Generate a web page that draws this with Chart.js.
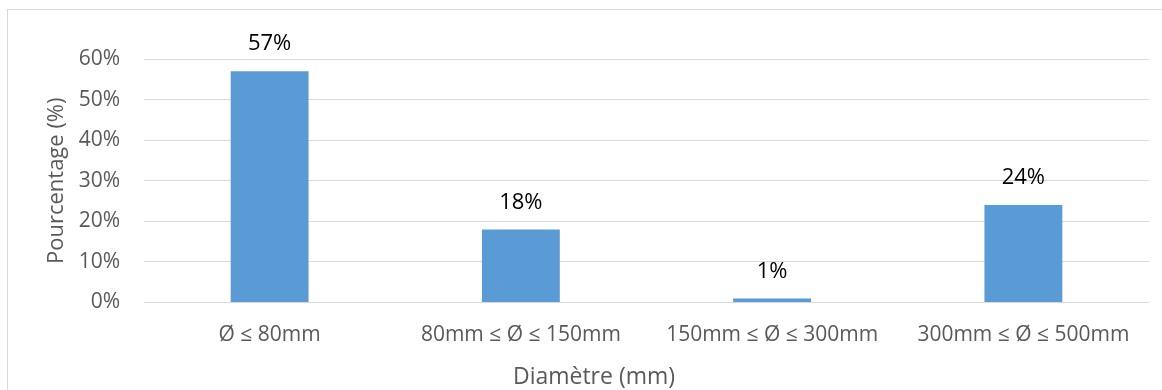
<!DOCTYPE html>
<html>
<head>
<meta charset="utf-8">
<script src="https://cdn.jsdelivr.net/npm/chart.js@4/dist/chart.umd.min.js"></script>
<style>
  body { margin: 0; background: #fff; overflow: hidden; }
  #frame { position: absolute; left: 7px; top: 9px; width: 1200px; height: 420px; border: 1px solid #d9d9d9; }
  #canvas { position: absolute; left: 0; top: 0; }
</style>
</head>
<body>
<div id="frame"></div>
<canvas id="canvas" width="1162" height="390"></canvas>
<script>
const categories = ['Ø ≤ 80mm', '80mm ≤ Ø ≤ 150mm', '150mm ≤ Ø ≤ 300mm', '300mm ≤ Ø ≤ 500mm']
const percentages = [57, 18, 1, 24]
const yTicks = [0, 10, 20, 30, 40, 50, 60]
const xTitle = 'Diamètre (mm)'
const yTitle = 'Pourcentage (%)'

const fontFamily = '"Open Sans", "Noto Sans", sans-serif'

// value above each bar + x title (centred on the whole frame, not the plot)
const barLabels = {
    id: 'barLabels',
    afterDatasetsDraw(chart) {
        const ctx = chart.ctx
        const meta = chart.getDatasetMeta(0)
        ctx.save()
        ctx.font = '22px ' + fontFamily
        ctx.fillStyle = '#000'
        ctx.textAlign = 'center'
        ctx.textBaseline = 'middle'
        meta.data.forEach((bar, i) => {
            ctx.fillText(percentages[i] + '%', bar.x, bar.y - 27)
        })
        ctx.font = '23px ' + fontFamily
        ctx.fillStyle = '#595959'
        ctx.fillText(xTitle, 594, chart.height - 13)
        ctx.restore()
    }
}

let context = document.getElementById('canvas').getContext('2d')

new Chart(context, {
    type: 'bar',
    data: {
        labels: categories,
        datasets: [{
            data: percentages,
            backgroundColor: '#5b9bd5',
            borderWidth: 0,
            categoryPercentage: 1,
            barPercentage: 0.31,
        }]
    },
    options: {
        responsive: false,
        animation: false,
        devicePixelRatio: 1,
        layout: {
            padding: { top: 59, right: 13, left: 0, bottom: 0 }
        },
        scales: {
            y: {
                min: 0,
                max: 60,
                afterFit: scale => { scale.width = 144 },
                afterBuildTicks: scale => { scale.ticks = yTicks.map(v => ({ value: v })) },
                border: { display: false },
                grid: {
                    color: '#d9d9d9',
                    drawTicks: false,
                },
                ticks: {
                    padding: 24,
                    color: '#595959',
                    font: { size: 21, family: fontFamily },
                    callback: v => v + '%',
                },
                title: {
                    display: true,
                    text: yTitle,
                    color: '#595959',
                    font: { size: 22, family: fontFamily, lineHeight: 1.2 },
                    padding: { top: 44, bottom: 0 },
                }
            },
            x: {
                afterFit: scale => { scale.height = 87.5 },
                border: { display: false },
                grid: { display: false, drawTicks: false },
                ticks: {
                    padding: 20,
                    color: '#595959',
                    maxRotation: 0,
                    font: { size: 21, family: fontFamily, lineHeight: 1.2 },
                },
                title: { display: false }
            }
        },
        plugins: {
            legend: { display: false },
            tooltip: { enabled: false },
        }
    },
    plugins: [barLabels]
})
</script>
</body>
</html>
